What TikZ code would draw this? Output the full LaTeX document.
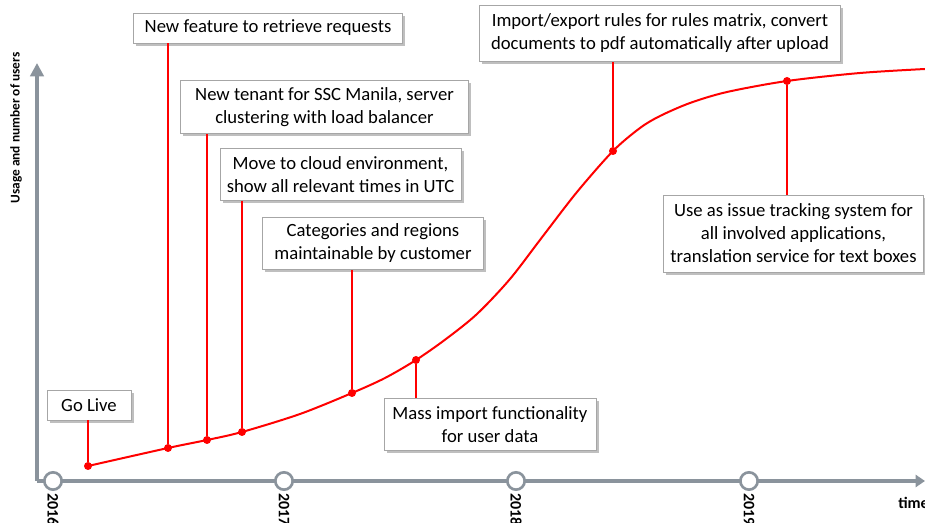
\documentclass[tikz,border=0pt]{standalone}
\usepackage{fontspec}
\setmainfont{Carlito}
\usetikzlibrary{shadows,arrows.meta}
\definecolor{axisgray}{HTML}{8A939C}
\definecolor{boxgray}{HTML}{A6A6A6}
\begin{document}
\begin{tikzpicture}[x=0.75pt,y=-0.75pt,
  msgbox/.style={draw=boxgray,line width=0.6pt,fill=white,align=center,
    font=\fontsize{14}{17.25}\selectfont,inner xsep=5pt,inner ysep=3pt,
    drop shadow={shadow xshift=2pt,shadow yshift=-2pt,fill=black,opacity=0.25}},
  axis/.style={draw=axisgray,line width=3pt},
  yearmark/.style={circle,draw=axisgray,line width=2pt,fill=white,minimum size=13pt,inner sep=0pt},
  yearlabel/.style={rotate=-90,anchor=west,inner sep=0pt,font=\fontsize{12}{14}\selectfont\bfseries},
  dot/.style={circle,fill=red,inner sep=0pt,minimum size=6pt},
  link/.style={draw=red,line width=1.4pt},
  curve/.style={draw=red,line width=1.5pt}]
\useasboundingbox (0,0) rectangle (925,523);
% axes
\coordinate (origin) at (37,481);
\coordinate (ytip) at (37,63);
\coordinate (xtip) at (925,481);
\draw[axis,-{Triangle[length=10pt,width=10pt]}] (origin) -- (ytip);
\draw[axis,-{Triangle[length=7pt,width=9pt]}] (origin) -- (xtip);
\node[rotate=90,font=\fontsize{10}{12}\selectfont\bfseries] (ylab) at (16,128) {Usage and number of users};
\node[font=\fontsize{12}{14}\selectfont\bfseries,anchor=west,inner sep=0pt] (tlab) at (898,503) {time};
\foreach \x/\yr in {53/2016,284/2017,516/2018,749/2019}{
  \node[yearmark] (m\yr) at (\x,481) {};
  \node[yearlabel] (l\yr) at (\x,493) {\yr};
}
% curve
\draw[curve] plot[smooth,tension=0.5] coordinates {(88,466) (168,448) (207,440) (242,432) (300,414) (352,393) (385,378) (416,360) (446,339) (477,314) (510,279) (543,236) (577,192) (613,151) (640,128) (660,116) (690,103) (727,92) (787,81) (860,73) (925,69)};
% dots
\node[dot] (d1) at (88,466) {};
\node[dot] (d2) at (168,448) {};
\node[dot] (d3) at (207,440) {};
\node[dot] (d4) at (242,432) {};
\node[dot] (d5) at (352,393) {};
\node[dot] (d6) at (416,360) {};
\node[dot] (d7) at (613,151) {};
\node[dot] (d8) at (787,81) {};
% boxes
\node[msgbox,minimum width=63pt,minimum height=22.5pt] (golive) at (89,405) {Go Live};
\node[msgbox,minimum width=202pt,minimum height=22.5pt] (feat) at (268,28) {New feature to retrieve requests};
\node[msgbox,minimum width=216pt,minimum height=40pt] (tenant) at (324.5,107) {New tenant for SSC Manila, server\\clustering with load balancer};
\node[msgbox,minimum width=180pt,minimum height=38.5pt] (cloud) at (340.5,174.5) {Move to cloud environment,\\show all relevant times in UTC};
\node[msgbox,minimum width=166pt,minimum height=39.5pt] (cat) at (373,243.5) {Categories and regions\\maintainable by customer};
\node[msgbox,minimum width=159pt,minimum height=39.5pt] (mass) at (490,424.5) {Mass import functionality\\for user data};
\node[msgbox,minimum width=271pt,minimum height=42.5pt] (imp) at (660,33.5) {Import/export rules for rules matrix, convert\\documents to pdf automatically after upload};
\node[msgbox,minimum width=191pt,minimum height=57.75pt] (issue) at (793.5,233.5) {Use as issue tracking system for\\all involved applications,\\translation service for text boxes};
% connectors
\draw[link] (d1 |- golive.south) -- (d1);
\draw[link] (d2 |- feat.south) -- (d2);
\draw[link] (d3 |- tenant.south) -- (d3);
\draw[link] (d4 |- cloud.south) -- (d4);
\draw[link] (d5 |- cat.south) -- (d5);
\draw[link] (d6) -- (d6 |- mass.north);
\draw[link] (d7 |- imp.south) -- (d7);
\draw[link] (d8) -- (d8 |- issue.north);
\end{tikzpicture}
\end{document}
